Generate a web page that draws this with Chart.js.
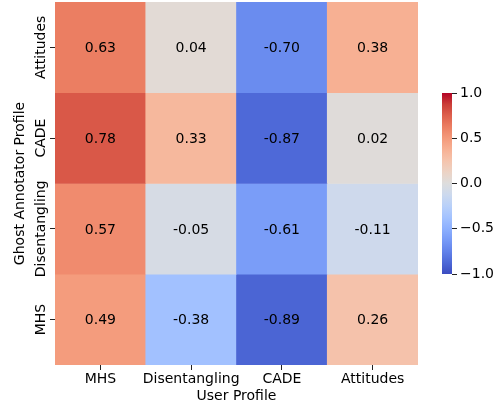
<!DOCTYPE html>
<html>
<head>
<meta charset="utf-8">
<script src="https://cdn.jsdelivr.net/npm/chart.js@4"></script>
<style>
  body { margin: 0; background: #fff; }
  #wrap { position: relative; width: 497px; height: 406px; }
  #heat { position: absolute; left: 0; top: 0; }
  #bar { position: absolute; left: 430px; top: 80px; }
</style>
</head>
<body>
<div id="wrap">
  <canvas id="heat" width="497" height="406"></canvas>
  <canvas id="bar" width="67" height="210"></canvas>
</div>
<script>
// Heatmap data (rows top to bottom, columns left to right)
const rowLabels = ['Attitudes', 'CADE', 'Disentangling', 'MHS'];
const colLabels = ['MHS', 'Disentangling', 'CADE', 'Attitudes'];
const attitudesRow = [0.63, 0.04, -0.70, 0.38];
const cadeRow = [0.78, 0.33, -0.87, 0.02];
const disentanglingRow = [0.57, -0.05, -0.61, -0.11];
const mhsRow = [0.49, -0.38, -0.89, 0.26];
const rows = [attitudesRow, cadeRow, disentanglingRow, mhsRow];
const colorbarTicks = [-1, -0.5, 0, 0.5, 1];

const FONT = 'DejaVu Sans';

// coolwarm colormap samples
const coolwarm = [
    [59, 76, 192], [77, 104, 215], [98, 130, 234], [119, 154, 247],
    [141, 176, 254], [163, 194, 255], [184, 208, 249], [204, 217, 238],
    [221, 221, 221], [236, 211, 197], [245, 196, 173], [247, 177, 148],
    [244, 154, 123], [236, 127, 99], [222, 96, 77], [203, 62, 56], [180, 4, 38]
];

function cmap(v) {
    let t = (v + 1) / 2;
    t = Math.max(0, Math.min(1, t));
    const pos = t * (coolwarm.length - 1);
    const i = Math.min(Math.floor(pos), coolwarm.length - 2);
    const f = pos - i;
    const a = coolwarm[i], b = coolwarm[i + 1];
    const c = a.map((x, k) => Math.round(x + (b[k] - x) * f));
    return `rgb(${c[0]}, ${c[1]}, ${c[2]})`;
}

// Cell annotations and rotated y tick labels
const annotate = {
    id: 'annotate',
    afterDatasetsDraw(chart) {
        const ctx = chart.ctx;
        const xs = chart.scales.x;
        const ys = chart.scales.y;
        ctx.save();
        ctx.fillStyle = '#000';
        ctx.font = `14px "${FONT}"`;
        ctx.textAlign = 'center';
        ctx.textBaseline = 'middle';
        rows.forEach((vals, r) => {
            vals.forEach((v, c) => {
                ctx.fillText(v.toFixed(2), xs.getPixelForValue(c), ys.getPixelForValue(r) + 1);
            });
        });
        rowLabels.forEach((lab, r) => {
            ctx.save();
            ctx.translate(44.5, ys.getPixelForValue(r));
            ctx.rotate(-Math.PI / 2);
            ctx.textBaseline = 'alphabetic';
            ctx.fillText(lab, 0, 0);
            ctx.restore();
        });
        ctx.restore();
    }
};

new Chart(document.getElementById('heat'), {
    type: 'bar',
    data: {
        labels: colLabels,
        datasets: rows.map((vals, r) => ({
            label: rowLabels[r],
            data: vals.map(() => [r - 0.5, r + 0.5]),
            backgroundColor: vals.map(cmap),
            barPercentage: 1,
            categoryPercentage: 1,
            grouped: false
        }))
    },
    options: {
        responsive: false,
        animation: false,
        devicePixelRatio: 1,
        layout: { padding: { left: 0, right: 79, top: 2, bottom: 0 } },
        plugins: { legend: { display: false }, tooltip: { enabled: false } },
        scales: {
            x: {
                border: { display: false },
                grid: { drawOnChartArea: false, offset: false, tickLength: 5, color: '#222', lineWidth: 1 },
                ticks: { color: '#000', font: { family: FONT, size: 14 }, padding: 1, maxRotation: 0, autoSkip: false },
                title: { display: true, text: 'User Profile', color: '#000', font: { family: FONT, size: 14 }, padding: { top: 0, bottom: 1.5 } },
                afterFit: (s) => { s.height = 41; }
            },
            y: {
                min: -0.5,
                max: 3.5,
                reverse: true,
                border: { display: false },
                afterBuildTicks: (s) => { s.ticks = rowLabels.map((_, i) => ({ value: i })); },
                grid: { drawOnChartArea: false, tickLength: 5, color: '#222', lineWidth: 1 },
                ticks: { display: false },
                title: { display: true, text: 'Ghost Annotator Profile', color: '#000', font: { family: FONT, size: 14 }, padding: { top: 12, bottom: 0 } },
                afterFit: (s) => { s.width = 55; }
            }
        }
    },
    plugins: [annotate]
});

// Colorbar
new Chart(document.getElementById('bar'), {
    type: 'bar',
    data: {
        labels: [''],
        datasets: [{
            data: [[-1, 1]],
            barPercentage: 1,
            categoryPercentage: 1,
            backgroundColor: (c) => {
                const area = c.chart.chartArea;
                if (!area) return '#ddd';
                const g = c.chart.ctx.createLinearGradient(0, area.bottom, 0, area.top);
                coolwarm.forEach((col, i) => {
                    g.addColorStop(i / (coolwarm.length - 1), `rgb(${col[0]}, ${col[1]}, ${col[2]})`);
                });
                return g;
            }
        }]
    },
    options: {
        responsive: false,
        animation: false,
        devicePixelRatio: 1,
        layout: { padding: { left: 12, right: 0, top: 13, bottom: 16 } },
        plugins: { legend: { display: false }, tooltip: { enabled: false } },
        scales: {
            x: { display: false },
            y: {
                position: 'right',
                min: -1,
                max: 1,
                border: { display: false },
                afterBuildTicks: (s) => { s.ticks = colorbarTicks.map((v) => ({ value: v })); },
                grid: { drawOnChartArea: false, tickLength: 5, color: '#222', lineWidth: 1 },
                ticks: {
                    color: '#000',
                    padding: 3,
                    font: { family: FONT, size: 14 },
                    callback: (v) => v.toFixed(1).replace('-', '\u2212')
                },
                afterFit: (s) => { s.width = 45; }
            }
        }
    }
});
</script>
</body>
</html>
